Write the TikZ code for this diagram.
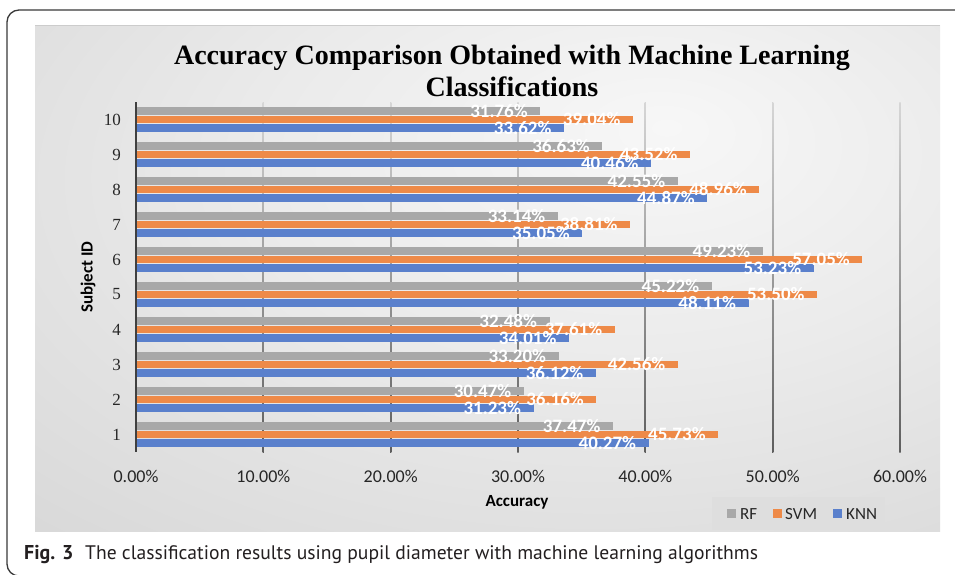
\documentclass[tikz,border=0pt]{standalone}
\usepackage{fontspec}
\newfontfamily\calfont{Carlito}
\newfontfamily\timesfont{Liberation Serif}
\newfontfamily\capfont{PT Sans}
\definecolor{rfc}{HTML}{A8A8A8}
\definecolor{svmc}{HTML}{EE8A48}
\definecolor{knnc}{HTML}{5A80CC}
\definecolor{bgA}{HTML}{F7F7F7}
\definecolor{bgB}{HTML}{EBEBEB}
\definecolor{bgC}{HTML}{D8D8D8}
\definecolor{bgD}{HTML}{CBCBCB}
\definecolor{bgE}{HTML}{BEBEBE}
\definecolor{grT}{HTML}{D6D6D6}
\definecolor{grB}{HTML}{5E5E5E}
\definecolor{axc}{HTML}{404040}
\definecolor{legbg}{HTML}{DEDEDE}
\definecolor{frc}{HTML}{3A3A3A}
\definecolor{capc}{HTML}{231F20}
\pgfdeclareradialshading{bgshade}{\pgfpoint{10bp}{15bp}}{color(0bp)=(bgA); color(20bp)=(bgB); color(45bp)=(bgC); color(60bp)=(bgD); color(85bp)=(bgE)}
\tikzset{
  lbl/.style={anchor=east, inner sep=0pt, text=white, font=\calfont\bfseries\fontsize{19}{22}\selectfont},
  ticklbl/.style={inner sep=0pt, text=black!85, font=\calfont\fontsize{18}{21}\selectfont},
  catlbl/.style={anchor=east, inner sep=0pt, text=black!85, font=\timesfont\fontsize{17}{20}\selectfont},
  axtitle/.style={inner sep=0pt, text=black, font=\calfont\bfseries\fontsize{17}{20}\selectfont},
  legtxt/.style={anchor=west, inner sep=0pt, text=black!85, font=\calfont\fontsize{17}{20}\selectfont},
  ttl/.style={anchor=base, inner sep=0pt, text=black, font=\timesfont\bfseries\fontsize{28}{32}\selectfont}
}
\begin{document}
\begin{tikzpicture}[x=1pt,y=-1pt]
\path[use as bounding box, clip] (0,0) rectangle (955,574);
\fill[white] (0,0) rectangle (955,574);
% outer frame
\draw[line width=1.3pt, frc, rounded corners=12pt] (7,10) rectangle (1000,576);
% plot background
\shade[shading=bgshade] (35,25) rectangle (940,531);
\draw[line width=0.8pt, black!20] (35,25) -- (940,25);
% title
\node[ttl] (title1) at (512,64) {Accuracy Comparison Obtained with Machine Learning};
\node[ttl] (title2) at (512,96) {Classifications};
% gridlines
\foreach \i in {1,...,6}{
  \shade[top color=grT, bottom color=grB] ({136+\i*127.333-0.6},102) rectangle ({136+\i*127.333+0.6},452);
}
% bars
\foreach \k/\r/\s/\n in {1/37.47/45.73/40.27, 2/30.47/36.16/31.23, 3/33.20/42.56/36.12, 4/32.48/37.61/34.01, 5/45.22/53.50/48.11, 6/49.23/57.05/53.23, 7/33.14/38.81/35.05, 8/42.55/48.96/44.87, 9/36.63/43.52/40.46, 10/31.76/39.04/33.62}{
  \pgfmathsetmacro{\yc}{452-(\k-0.5)*35}
  \fill[rfc]  (136,{\yc-8.8-3.9}) rectangle ({136+\r*12.7333},{\yc-8.8+3.9});
  \fill[svmc] (136,{\yc-3.9}) rectangle ({136+\s*12.7333},{\yc+3.9});
  \fill[knnc] (136,{\yc+8.8-3.9}) rectangle ({136+\n*12.7333},{\yc+8.8+3.9});
  \node[lbl] (r\k) at ({136+\r*12.7333-12.5},{\yc-8.8}) {\r\%};
  \node[lbl] (s\k) at ({136+\s*12.7333-12.5},{\yc}) {\s\%};
  \node[lbl] (n\k) at ({136+\n*12.7333-12.5},{\yc+8.8}) {\n\%};
  \node[catlbl] (c\k) at (121,\yc) {\k};
}
% axis
\draw[line width=2pt, axc] (136,102) -- (136,452);
% tick labels
\foreach \i/\t in {0/0.00, 1/10.00, 2/20.00, 3/30.00, 4/40.00, 5/50.00, 6/60.00}{
  \node[ticklbl] (t\i) at ({136+\i*127.333},476) {\t\%};
}
\node[axtitle] (xt) at (517,502) {Accuracy};
\node[axtitle, rotate=90] (yt) at (88,277) {Subject ID};
% legend
\node[fill=legbg, minimum width=173pt, minimum height=33pt, inner sep=0pt] (leg) at (798.5,513.5) {};
\fill[rfc]  (727,509) rectangle (736,518);
\node[legtxt] (lrf) at (740,514) {RF};
\fill[svmc] (773,509) rectangle (782,518);
\node[legtxt] (lsvm) at (785,514) {SVM};
\fill[knnc] (833,509) rectangle (842,518);
\node[legtxt] (lknn) at (846,514) {KNN};
% caption
\node[anchor=base west, inner sep=0pt, text=capc, font=\capfont\bfseries\fontsize{20}{23}\selectfont] (figl) at (24,559) {Fig. 3};
\node[anchor=base west, inner sep=0pt, text=capc, font=\capfont\fontsize{19.6}{23}\selectfont] (capt) at (85,559) {The classification results using pupil diameter with machine learning algorithms};
\end{tikzpicture}
\end{document}
